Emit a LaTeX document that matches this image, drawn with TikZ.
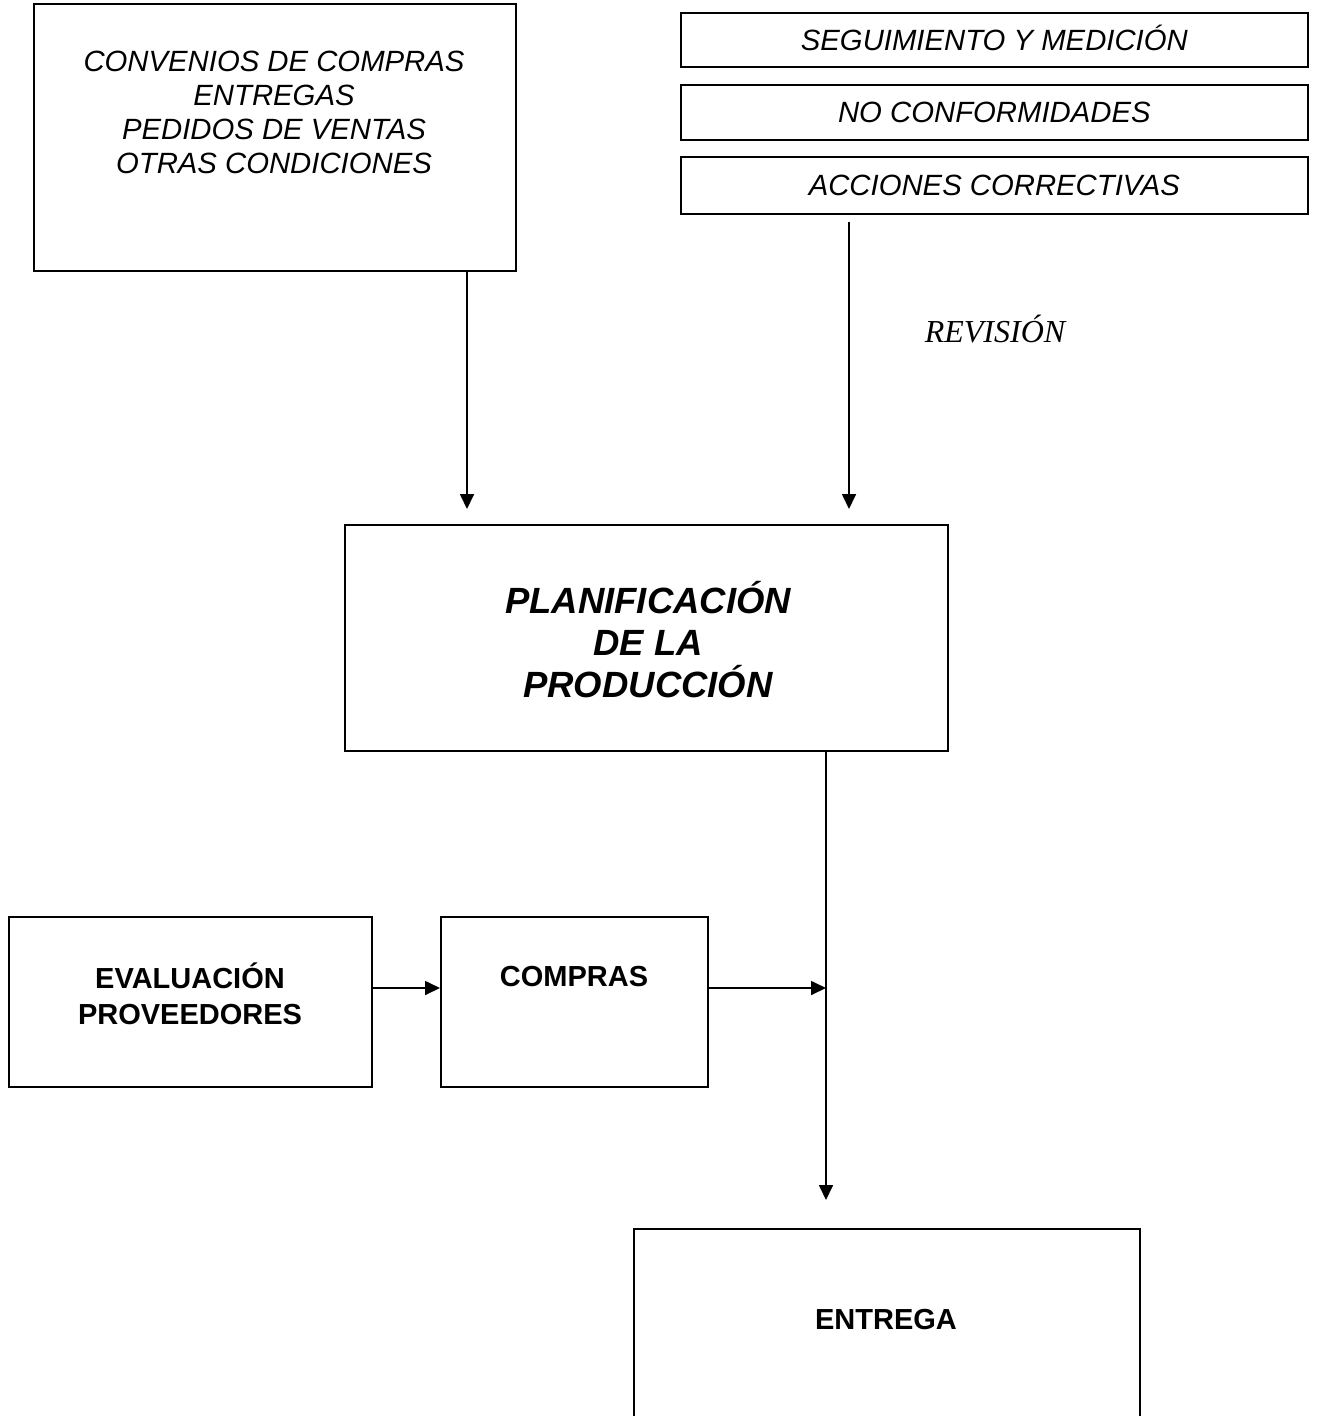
\documentclass[tikz,border=0pt]{standalone}
\usepackage{fontspec}
\setmainfont{Liberation Sans}
\newfontfamily\timesfont{Liberation Serif}
\usetikzlibrary{arrows.meta}
\begin{document}
\begin{tikzpicture}[x=1pt,y=-1pt,
  box/.style={draw=black, line width=1.7pt, inner sep=0pt, anchor=north west},
  conn/.style={line width=1.7pt, -{Triangle[length=15pt,width=14pt]}},
  itl/.style={font=\fontsize{29.3}{34}\selectfont\itshape, align=center, inner sep=0pt},
  bld/.style={font=\fontsize{29}{36}\selectfont\bfseries, align=center, inner sep=0pt},
  bigt/.style={font=\fontsize{36.5}{42}\selectfont\bfseries\itshape, align=center, inner sep=0pt},
  capt/.style={text height=21pt, text depth=0pt},
]
\path[use as bounding box] (0,0) rectangle (1317,1416);
\begin{scope}
\clip (0,0) rectangle (1317,1416);
% boxes
\node[box, minimum width=482pt, minimum height=267pt] (conv) at (33,3) {};
\node[box, minimum width=627pt, minimum height=54pt, itl, capt] (seg) at (680,12) {SEGUIMIENTO Y MEDICIÓN};
\node[box, minimum width=627pt, minimum height=55pt, itl, capt] (noc) at (680,84) {NO CONFORMIDADES};
\node[box, minimum width=627pt, minimum height=57pt, itl, capt] (acc) at (680,156) {ACCIONES CORRECTIVAS};
\node[box, minimum width=603pt, minimum height=226pt] (plan) at (344,524) {};
\node[box, minimum width=363pt, minimum height=170pt] (eval) at (8,916) {};
\node[box, minimum width=267pt, minimum height=170pt] (comp) at (440,916) {};
\node[box, minimum width=506pt, minimum height=260pt] (entr) at (633,1228) {};
% texts
\node[itl] (convt) at (274,112) {CONVENIOS DE COMPRAS\\ENTREGAS\\PEDIDOS DE VENTAS\\OTRAS CONDICIONES};
\node[bigt] (plant) at (648,640) {PLANIFICACIÓN\\DE LA\\PRODUCCIÓN};
\node[bld] (evalt) at (190,994) {EVALUACIÓN\\PROVEEDORES};
\node[bld, anchor=base] (compt) at (574,986) {COMPRAS};
\node[bld, anchor=base] (entrt) at (886,1329) {ENTREGA};
\node[font=\timesfont\itshape\fontsize{32}{36}\selectfont, inner sep=0pt, anchor=base] (rev) at (995,342) {REVISIÓN};
% connectors
\coordinate (t1) at (467,509);
\coordinate (t2) at (849,509);
\coordinate (j) at (826,988);
\coordinate (t3) at (826,1200);
\draw[conn] (conv.south -| t1) -- (t1);
\draw[conn, shorten <=7pt] (acc.south -| t2) -- (t2);
\draw[conn] (plan.south -| j) -- (t3);
\draw[conn] (eval.east |- j) -- (comp.west |- j);
\draw[conn] (comp.east |- j) -- (j);
\end{scope}
\end{tikzpicture}
\end{document}
